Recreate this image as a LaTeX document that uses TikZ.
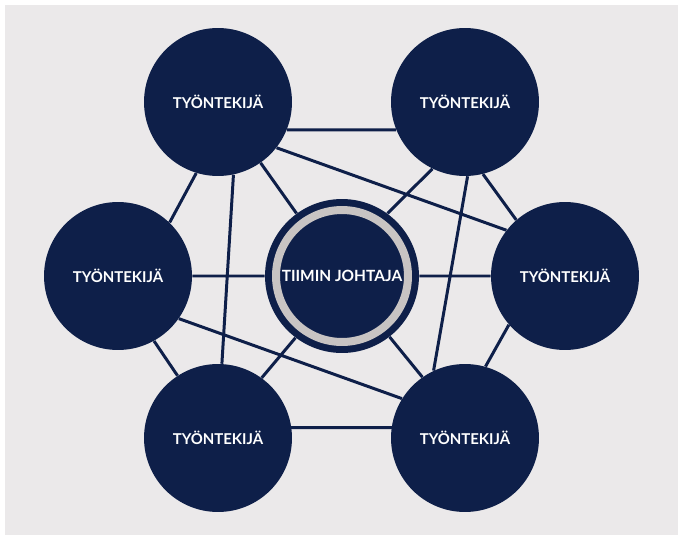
\documentclass[tikz,border=0pt]{standalone}
\usepackage{fontspec}
\setmainfont{Lato}
\definecolor{navy}{HTML}{0E1F49}
\definecolor{ringgrey}{HTML}{C8C4C3}
\definecolor{paper}{HTML}{EBE9EA}
\pgfdeclarelayer{back}
\pgfsetlayers{back,main}
\begin{document}
\begin{tikzpicture}[x=0.02cm,y=-0.02cm]
\tikzstyle{every node}=[shape=circle,fill=navy,text=white,inner sep=0pt];
\tikzstyle{worker}=[minimum size=2.96cm,font=\bfseries\fontsize{8.5}{10}\selectfont];
\tikzstyle{leader}=[minimum size=3.08cm,font=\bfseries\fontsize{8.8}{10}\selectfont];
\tikzstyle{link}=[draw=navy,line width=1.7pt,shorten <=-2pt,shorten >=-2pt];
\useasboundingbox (0,0) rectangle (681,538);
\begin{pgfonlayer}{back}
\fill[white] (0,0) rectangle (681,538);
\fill[paper] (5,5) rectangle (678,535);
\end{pgfonlayer}
\node[leader] (j) at (342,276) {TIIMIN JOHTAJA};
\draw[ringgrey,line width=0.16cm] (j) circle (1.32cm);
\node[worker] (t1) at (218,102) {TYÖNTEKIJÄ};
\node[worker] (t2) at (465,102) {TYÖNTEKIJÄ};
\node[worker] (t3) at (118,276) {TYÖNTEKIJÄ};
\node[worker] (t4) at (565,276) {TYÖNTEKIJÄ};
\node[worker] (t5) at (218,438) {TYÖNTEKIJÄ};
\node[worker] (t6) at (465,438) {TYÖNTEKIJÄ};
\begin{pgfonlayer}{back}
\draw[link]
(t1.-22) -- (t2.-158) (t1.-38) -- (t4.142) (t1.-107) -- (t3.46)
(t1.-78) -- (t5.87) (t1.-55) -- (j.126)
(t2.-116) -- (j.54) (t2.-88) -- (t6.115) (t2.-76) -- (t4.131)
(t3.0) -- (j.180) (j.0) -- (t4.180)
(t3.-61) -- (t5.123) (t3.-35) -- (t6.148)
(j.-127) -- (t5.54) (j.-52) -- (t6.125)
(t4.-139) -- (t6.74) (t5.8) -- (t6.172)
;
\end{pgfonlayer}
\end{tikzpicture}
\end{document}
